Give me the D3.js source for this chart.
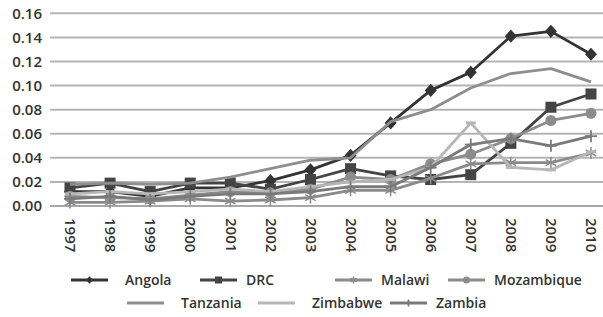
<!DOCTYPE html>
<html><head><meta charset="utf-8">
<script src="https://cdn.jsdelivr.net/npm/d3@7"></script>
<style>html,body{margin:0;padding:0;background:#fff;overflow:hidden}</style>
</head><body>
<svg id="c" width="603" height="317"></svg>
<script>
const years = ["1997","1998","1999","2000","2001","2002","2003","2004","2005","2006","2007","2008","2009","2010"];
const yTicks = [0,0.02,0.04,0.06,0.08,0.10,0.12,0.14,0.16];
const angola     = [0.012,0.012,0.008,0.015,0.015,0.021,0.030,0.042,0.069,0.096,0.111,0.141,0.145,0.126];
const drc        = [0.015,0.019,0.012,0.019,0.019,0.014,0.022,0.031,0.025,0.022,0.026,0.052,0.082,0.093];
const malawi     = [0.003,0.003,0.004,0.006,0.004,0.005,0.007,0.013,0.013,0.023,0.035,0.036,0.036,0.044];
const mozambique = [0.008,0.007,0.006,0.009,0.012,0.011,0.014,0.024,0.022,0.035,0.043,0.056,0.071,0.077];
const tanzania   = [0.018,0.019,0.018,0.019,0.024,0.031,0.038,0.040,0.070,0.080,0.098,0.110,0.114,0.103];
const zimbabwe   = [0.010,0.012,0.010,0.012,0.014,0.012,0.016,0.020,0.022,0.032,0.069,0.032,0.030,0.045];
const zambia     = [0.006,0.008,0.005,0.008,0.010,0.010,0.012,0.016,0.016,0.032,0.051,0.056,0.050,0.058];
const seriesNames = ["Angola","DRC","Malawi","Mozambique","Tanzania","Zimbabwe","Zambia"];
const seriesValues = [angola,drc,malawi,mozambique,tanzania,zimbabwe,zambia];

const style = {
  Angola:{color:"#333333",marker:"diamond"},
  DRC:{color:"#444444",marker:"square"},
  Malawi:{color:"#8a8a8a",marker:"asterisk"},
  Mozambique:{color:"#8c8c8c",marker:"circle"},
  Tanzania:{color:"#8e8e8e",marker:"none"},
  Zimbabwe:{color:"#b6b6b6",marker:"dash"},
  Zambia:{color:"#7a7a7a",marker:"plus"}
};

const svg = d3.select("#c");
const x = d3.scalePoint().domain(years).range([70,591]);
const y = d3.scaleLinear().domain([0,0.16]).range([206,13.3]);
const font = "'Open Sans', 'Liberation Sans', sans-serif";

// gridlines
svg.append("g").selectAll("line").data(yTicks).join("line")
  .attr("x1",50).attr("x2",603)
  .attr("y1",d=>y(d)).attr("y2",d=>y(d))
  .attr("stroke",d=>d===0?"#a8a8a8":"#b4b4b4").attr("stroke-width",2);

// y axis labels
const yAxis = d3.axisLeft(y).tickValues(yTicks).tickFormat(d3.format(".2f")).tickSize(0).tickPadding(0);
const ya = svg.append("g").attr("transform","translate(42,0)").call(yAxis);
ya.select(".domain").remove();
ya.selectAll("text").attr("font-family",font).attr("font-size",15).attr("font-weight",600).attr("fill","#333");

// x axis labels
const xAxis = d3.axisBottom(x).tickSize(0).tickPadding(0);
const xa = svg.append("g").attr("transform","translate(0,210)").call(xAxis);
xa.select(".domain").remove();
xa.selectAll("text").attr("font-family",font).attr("font-size",15).attr("font-weight",600).attr("fill","#333")
  .attr("transform","rotate(90)").attr("text-anchor","start").attr("dy","0.35em").attr("x",8).attr("y",0);

function drawMarker(g, type, color, size){
  const s = size, r = s/2;
  if(type==="diamond"){
    g.append("path").attr("d",`M0,${-r*1.1}L${r},0L0,${r*1.1}L${-r},0Z`).attr("fill",color);
  } else if(type==="square"){
    g.append("rect").attr("x",-r).attr("y",-r).attr("width",s).attr("height",s).attr("fill",color);
  } else if(type==="circle"){
    g.append("circle").attr("r",r).attr("fill",color);
  } else if(type==="asterisk"){
    [[0,-r,0,r],[-r*0.87,-r*0.5,r*0.87,r*0.5],[-r*0.87,r*0.5,r*0.87,-r*0.5]].forEach(c=>
      g.append("line").attr("x1",c[0]).attr("y1",c[1]).attr("x2",c[2]).attr("y2",c[3]).attr("stroke",color).attr("stroke-width",1.5));
  } else if(type==="plus"){
    g.append("line").attr("x1",0).attr("y1",-r).attr("x2",0).attr("y2",r).attr("stroke",color).attr("stroke-width",1.8);
    g.append("line").attr("x1",-r).attr("y1",0).attr("x2",r).attr("y2",0).attr("stroke",color).attr("stroke-width",1.8);
  } else if(type==="dash"){
    g.append("line").attr("x1",-r).attr("y1",0).attr("x2",r).attr("y2",0).attr("stroke",color).attr("stroke-width",3);
  }
}

const line = d3.line().x((d,i)=>x(years[i])).y(d=>y(d));
const markerSize = {diamond:12,square:11,circle:11,asterisk:12,plus:12,dash:10,none:0};

seriesNames.forEach((name,k)=>{
  const st = style[name];
  const g = svg.append("g");
  g.append("path").datum(seriesValues[k]).attr("d",line).attr("fill","none")
    .attr("stroke",st.color).attr("stroke-width",2.8).attr("stroke-linejoin","round");
  if(st.marker!=="none"){
    seriesValues[k].forEach((v,i)=>{
      const mg = g.append("g").attr("transform",`translate(${x(years[i])},${y(v)})`);
      drawMarker(mg, st.marker, st.color, markerSize[st.marker]);
    });
  }
});

// legend
const legendPos = [
  {lx:71,  ly:280}, {lx:200, ly:280}, {lx:335, ly:280}, {lx:448, ly:280},
  {lx:127, ly:303}, {lx:258, ly:303}, {lx:390, ly:303}
];
const lg = svg.append("g");
seriesNames.forEach((name,k)=>{
  const st = style[name], p = legendPos[k];
  const g = lg.append("g").attr("transform",`translate(${p.lx},${p.ly})`);
  g.append("line").attr("x1",0).attr("x2",37).attr("y1",0).attr("y2",0).attr("stroke",st.color).attr("stroke-width",2.8);
  if(st.marker!=="none" && st.marker!=="dash"){
    const mg = g.append("g").attr("transform","translate(18.5,0)");
    drawMarker(mg, st.marker, st.color, 7);
  }
  g.append("text").attr("x",name==="Tanzania"||name==="Zimbabwe"||name==="Angola"?54:46).attr("y",0).attr("dy","0.35em")
    .attr("font-family",font).attr("font-size",14).attr("font-weight",600).attr("fill","#333").text(name);
});
</script>
</body></html>
